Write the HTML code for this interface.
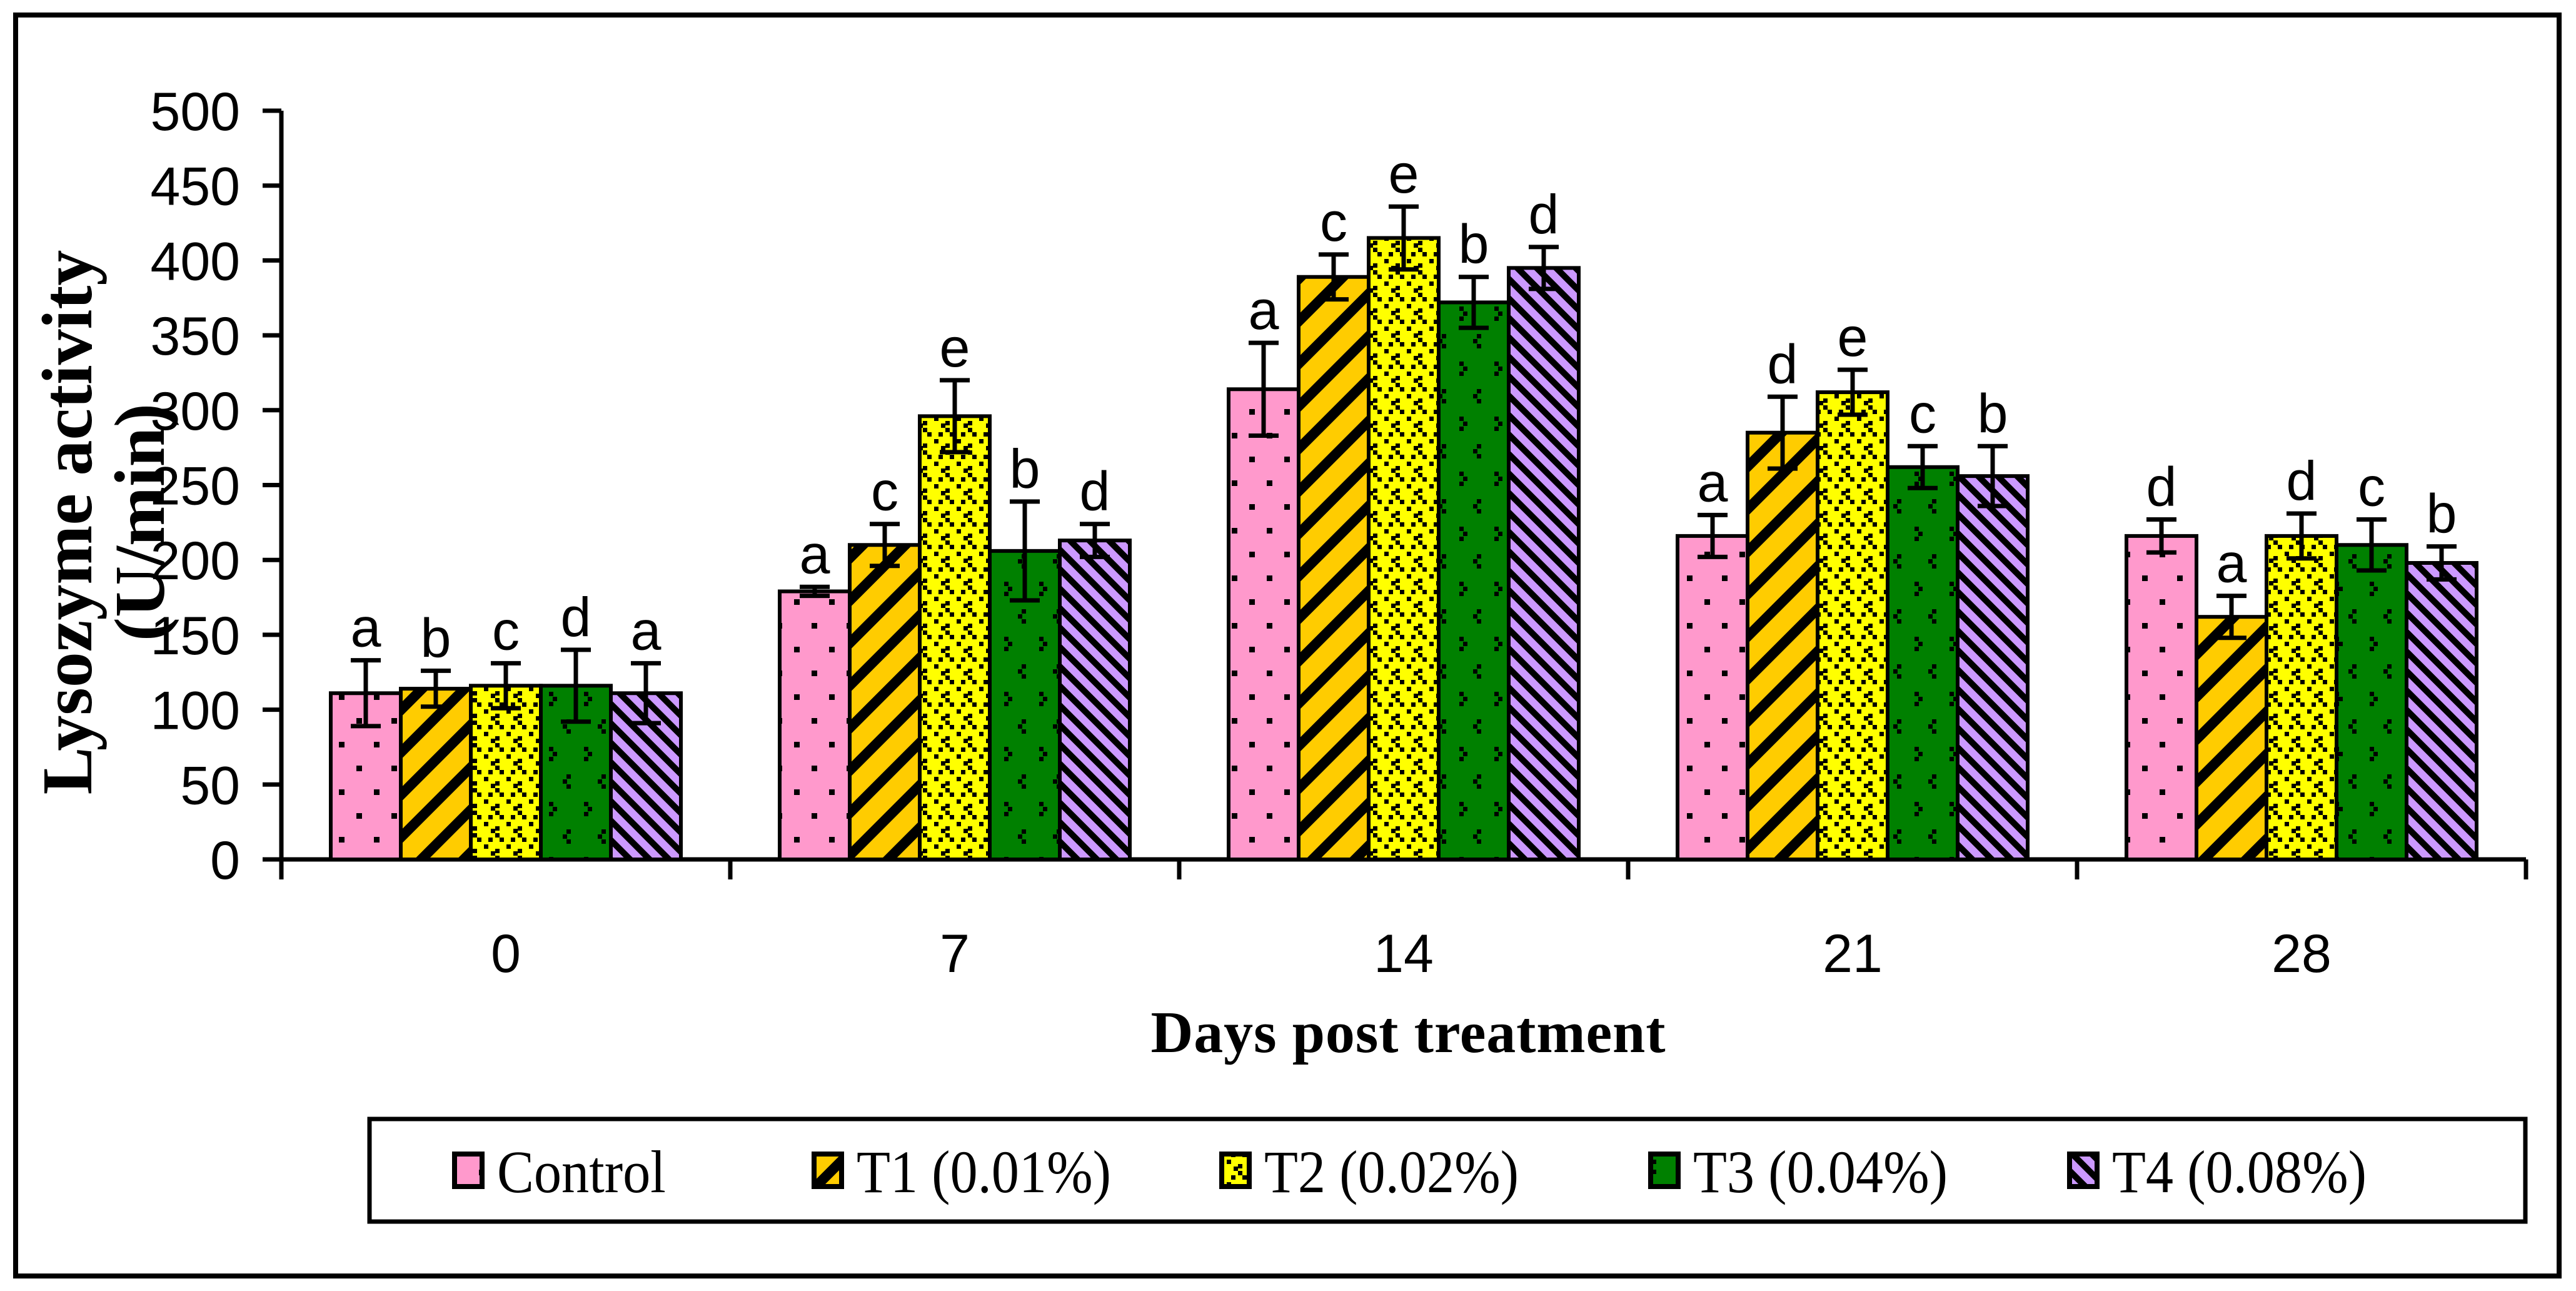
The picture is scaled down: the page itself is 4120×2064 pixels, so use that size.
<!DOCTYPE html>
<html><head><meta charset="utf-8">
<style>
html,body{margin:0;padding:0;background:#fff;}
svg{display:block;}
</style></head>
<body>
<svg id="chart" xmlns="http://www.w3.org/2000/svg" width="4120" height="2064" viewBox="0 0 4120 2064">
<defs>
  <pattern id="pDots" patternUnits="userSpaceOnUse" width="56" height="76">
    <rect width="56" height="76" fill="#ff99cc"/>
    <rect x="10" y="8" width="9" height="9" fill="#000"/>
    <rect x="38" y="46" width="9" height="9" fill="#000"/>
  </pattern>
  <pattern id="pGold" patternUnits="userSpaceOnUse" width="48" height="48" patternTransform="rotate(45)">
    <rect width="48" height="48" fill="#ffcc00"/>
    <rect x="0" y="0" width="16" height="48" fill="#000"/>
  </pattern>
  <pattern id="pYellow" patternUnits="userSpaceOnUse" width="36" height="36">
    <rect width="36" height="36" fill="#ffff00"/>
    <rect x="0" y="0" width="7" height="7" fill="#000"/>
    <rect x="7" y="7" width="7" height="7" fill="#000"/>
    <rect x="25" y="7" width="7" height="7" fill="#000"/>
    <rect x="18" y="18" width="7" height="7" fill="#000"/>
    <rect x="0" y="25" width="7" height="7" fill="#000"/>
    <rect x="29" y="29" width="7" height="7" fill="#000"/>
  </pattern>
  <pattern id="pGreen" patternUnits="userSpaceOnUse" width="56" height="88">
    <rect width="56" height="88" fill="#008000"/>
    <rect x="10" y="6" width="7" height="7" fill="#000"/>
    <rect x="4" y="14" width="7" height="7" fill="#000"/>
    <rect x="10" y="22" width="7" height="7" fill="#000"/>
    <rect x="38" y="50" width="7" height="7" fill="#000"/>
    <rect x="44" y="58" width="7" height="7" fill="#000"/>
    <rect x="38" y="66" width="7" height="7" fill="#000"/>
  </pattern>
  <pattern id="pPurple" patternUnits="userSpaceOnUse" width="22" height="22" patternTransform="rotate(-45)">
    <rect width="22" height="22" fill="#cc99ff"/>
    <rect x="0" y="0" width="10" height="22" fill="#000"/>
  </pattern>
</defs>
<rect x="25" y="24" width="4068" height="2016" fill="none" stroke="#000" stroke-width="8"/>
<g id="axes"></g>
<g id="bars"></g>
<text transform="translate(146,835) rotate(-90)" text-anchor="middle" font-family="Liberation Serif, serif" font-weight="bold" font-size="114">Lysozyme activity</text>
<text transform="translate(262,835) rotate(-90)" text-anchor="middle" font-family="Liberation Serif, serif" font-weight="bold" font-size="114">(U/min)</text>
<text x="2252" y="1682" text-anchor="middle" font-family="Liberation Serif, serif" font-weight="bold" font-size="94" textLength="823">Days post treatment</text>
<rect x="591" y="1789" width="3448" height="164" fill="#fff" stroke="#000" stroke-width="7"/>
<g id="legend"></g>
</svg>
<script>
const categories = ["0","7","14","21","28"];
const seriesNames = ["Control","T1 (0.01%)","T2 (0.02%)","T3 (0.04%)","T4 (0.08%)"];
const controlVals = [111,179,314,216,216];
const t1Vals = [114,210,389,285,162];
const t2Vals = [116,296,415,312,216];
const t3Vals = [116,206,372,262,210];
const t4Vals = [111,213,395,256,198];
const controlErr = [22,3,31,14,11];
const t1Err = [12,14,15,24,14];
const t2Err = [15,24,21,15,15];
const t3Err = [24,33,17,14,17];
const t4Err = [20,11,14,20,11];
const controlLetters = ["a","a","a","a","d"];
const t1Letters = ["b","c","c","d","a"];
const t2Letters = ["c","e","e","e","d"];
const t3Letters = ["d","b","b","c","c"];
const t4Letters = ["a","d","d","b","b"];
const yTicks = [0,50,100,150,200,250,300,350,400,450,500];

const values=[controlVals,t1Vals,t2Vals,t3Vals,t4Vals];
const errs=[controlErr,t1Err,t2Err,t3Err,t4Err];
const letters=[controlLetters,t1Letters,t2Letters,t3Letters,t4Letters];
const fills=["url(#pDots)","url(#pGold)","url(#pYellow)","url(#pGreen)","url(#pPurple)"];
const NS="http://www.w3.org/2000/svg";
const X0=450, GW=718, Y0=1374, Y500=177, BW=112, OFF=79;
const y=v=>Y0-(Y0-Y500)*v/500;
const gx=i=>X0+GW*i;
function mk(tag,attrs,parent,text){const e=document.createElementNS(NS,tag);for(const k in attrs)e.setAttribute(k,attrs[k]);if(text!==undefined)e.textContent=text;parent.appendChild(e);return e;}
const axes=document.getElementById('axes'), bars=document.getElementById('bars'), legend=document.getElementById('legend');
const font="Liberation Sans, Arial, sans-serif";

let l=mk('line',{x1:X0,y1:y(500),x2:X0,y2:Y0+3,stroke:'#000','stroke-width':7},axes);


l=mk('line',{x1:X0-3,y1:Y0,x2:gx(5),y2:Y0,stroke:'#000','stroke-width':7},axes);


yTicks.forEach(t=>{
  const tk=mk('line',{x1:X0-30,y1:y(t),x2:X0,y2:y(t),stroke:'#000','stroke-width':7},axes);
  
  
  const tl=mk('text',{x:384,y:y(t)+31,'text-anchor':'end','font-family':font,'font-size':86},axes,String(t));
  
  
});
for(let i=0;i<=categories.length;i++){
  const tk=mk('line',{x1:gx(i),y1:Y0,x2:gx(i),y2:Y0+32,stroke:'#000','stroke-width':7},axes);
  
  
}
categories.forEach((c,i)=>{
  const tl=mk('text',{x:gx(i)+GW/2,y:1554,'text-anchor':'middle','font-family':font,'font-size':86},axes,c);
  
  
});
categories.forEach((c,i)=>{
  for(let s=0;s<5;s++){
    const v=values[s][i], e=errs[s][i];
    const bx=gx(i)+OFF+s*BW;
    const r=mk('rect',{x:bx,y:y(v),width:BW,height:Y0-y(v),fill:fills[s],stroke:'#000','stroke-width':6},bars);
    
    
    const cx=bx+BW/2;
    const eb=mk('path',{d:`M${cx},${y(v+e)}V${y(v-e)}M${cx-24},${y(v+e)}H${cx+24}M${cx-24},${y(v-e)}H${cx+24}`,stroke:'#000','stroke-width':7,fill:'none'},bars);
    
    
    const lt=mk('text',{x:cx,y:y(v+e)-22,'text-anchor':'middle','font-family':font,'font-size':88},bars,letters[s][i]);
    
    
  }
});
const legX=[723,1298,1950,2636,3306];
seriesNames.forEach((n,s)=>{
  const sw=mk('rect',{x:legX[s]+4,y:1845,width:44,height:52,fill:fills[s],stroke:'#000','stroke-width':8},legend);
  
  
  const t=mk('text',{x:legX[s]+72,y:1906,'font-family':'Liberation Serif, serif','font-size':96,transform:`translate(${legX[s]+72},1906) scale(0.92,1) translate(${-(legX[s]+72)},-1906)`},legend,n);
  
  
});
</script>
</body></html>
